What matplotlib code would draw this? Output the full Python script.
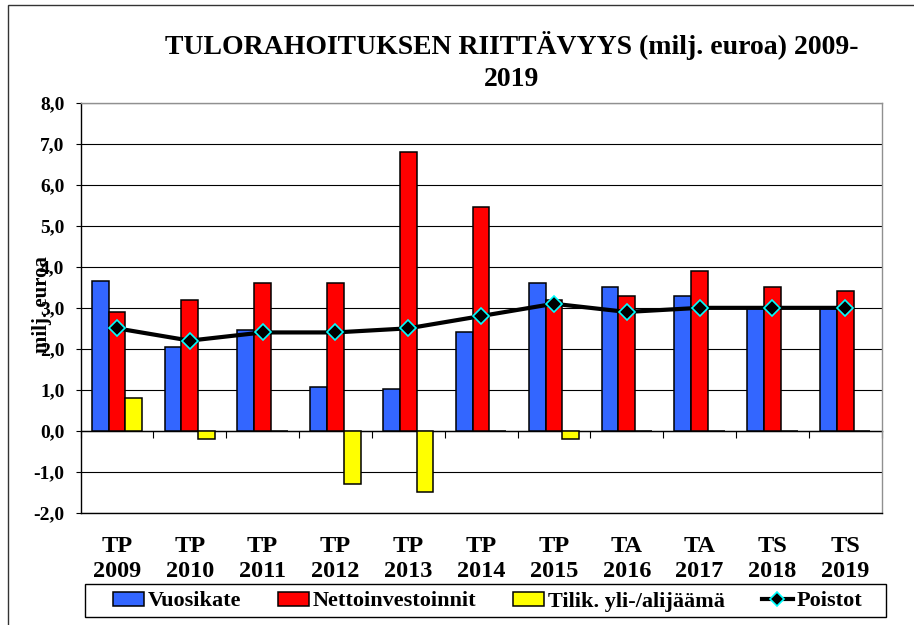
import numpy as np
import matplotlib
matplotlib.use("Agg")
import matplotlib.pyplot as plt
from matplotlib.patches import Rectangle, Patch
from matplotlib.lines import Line2D

# ---- data ----
categories = ["TP\n2009", "TP\n2010", "TP\n2011", "TP\n2012", "TP\n2013", "TP\n2014",
              "TP\n2015", "TA\n2016", "TA\n2017", "TS\n2018", "TS\n2019"]
vuosikate = [3.65, 2.05, 2.45, 1.08, 1.02, 2.42, 3.6, 3.5, 3.3, 3.0, 3.0]
nettoinvestoinnit = [2.9, 3.2, 3.6, 3.6, 6.8, 5.45, 3.2, 3.3, 3.9, 3.5, 3.4]
tilik = [0.8, -0.2, 0.0, -1.3, -1.5, 0.0, -0.2, 0.0, 0.0, 0.0, 0.0]
poistot = [2.5, 2.2, 2.4, 2.4, 2.5, 2.8, 3.1, 2.9, 3.0, 3.0, 3.0]
series_names = ["Vuosikate", "Nettoinvestoinnit", "Tilik. yli-/alijäämä", "Poistot"]
yticks = [-2, -1, 0, 1, 2, 3, 4, 5, 6, 7, 8]
ytick_labels = ["-2,0", "-1,0", "0,0", "1,0", "2,0", "3,0", "4,0", "5,0", "6,0", "7,0", "8,0"]
title = "TULORAHOITUKSEN RIITTÄVYYS (milj. euroa) 2009-\n2019"
ylabel = "milj. euroa"

plt.rcParams['font.family'] = ['Liberation Serif', 'DejaVu Serif']
plt.rcParams['font.weight'] = 'bold'

W, H = 914, 625
fig = plt.figure(figsize=(W / 100, H / 100), dpi=100)
fig.patch.set_facecolor("white")

ax = fig.add_axes([80.5 / W, 1 - 512.7 / H, (881.7 - 80.5) / W, (512.7 - 103) / H])

x = np.arange(len(categories))
bw = 0.23
c_blue, c_red, c_yel = "#3366FF", "#FF0000", "#FFFF00"
ax.bar(x - bw, vuosikate, bw, color=c_blue, edgecolor="black", linewidth=1.1, zorder=3)
ax.bar(x, nettoinvestoinnit, bw, color=c_red, edgecolor="black", linewidth=1.1, zorder=3)
ax.bar(x + bw, tilik, bw, color=c_yel, edgecolor="black", linewidth=1.1, zorder=3)
ax.plot(x, poistot, color="black", lw=3.0, marker="D", ms=8.5, mfc="black",
        mec="#00FFFF", mew=1.2, zorder=5)

ax.set_xlim(-0.5, len(categories) - 0.5)
ax.set_ylim(min(yticks), max(yticks))
ax.set_yticks(yticks)
ax.set_yticklabels(ytick_labels)
ax.tick_params(axis="y", direction="out", length=3.6, width=0.8, pad=8, labelsize=14)
ax.set_xticks(x)
ax.set_xticklabels(categories, linespacing=1.2)
ax.tick_params(axis="x", length=0, pad=17, labelsize=17.5)
for lab in ax.get_xticklabels() + ax.get_yticklabels():
    lab.set_fontweight("bold")

ax.grid(axis="y", color="black", lw=0.8)
ax.set_axisbelow(True)
for s in ["top", "right"]:
    ax.spines[s].set_color("#909090")
    ax.spines[s].set_linewidth(1.0)
for s in ["left", "bottom"]:
    ax.spines[s].set_color("black")
    ax.spines[s].set_linewidth(1.0)

# zero line with category-boundary ticks
zero_pos = (0 - min(yticks)) / (max(yticks) - min(yticks))
sec = ax.secondary_xaxis(zero_pos)
sec.set_xticks(np.arange(len(categories) + 1) - 0.5)
sec.set_xticklabels([])
sec.tick_params(direction="out", length=5, width=0.8, color="black")
sec.spines["bottom"].set_color("black")
sec.spines["bottom"].set_linewidth(1.0)
sec.spines["bottom"].set_zorder(2.5)

fig.text(0.560, 0.951, title, ha="center", va="top", fontsize=20, fontweight="bold",
         linespacing=1.38)
fig.text(42 / W, 1 - 305 / H, ylabel, rotation=90, ha="center", va="center",
         fontsize=15, fontweight="bold")

# legend: frame box and content
box_l, box_r, box_t, box_b = 85, 886, 584, 617
fig.add_artist(Rectangle((box_l / W, 1 - box_b / H), (box_r - box_l) / W, (box_b - box_t) / H,
                         transform=fig.transFigure, fill=True, facecolor="white",
                         edgecolor="black", lw=1.0, zorder=4))
handles = [Patch(facecolor=c_blue, edgecolor="black", lw=1.1),
           Patch(facecolor=c_red, edgecolor="black", lw=1.1),
           Patch(facecolor=c_yel, edgecolor="black", lw=1.1),
           Line2D([], [], color="black", lw=3.0, marker="D", ms=7, mfc="black",
                  mec="#00FFFF", mew=1.2)]
c_l, c_r = 113, 862
leg = fig.legend(handles, series_names, loc="center",
                 bbox_to_anchor=(c_l / W, 1 - (box_b + 1) / H, (c_r - c_l) / W, (box_b - box_t) / H),
                 mode="expand", ncol=4, frameon=False,
                 prop={"size": 16, "weight": "bold"}, handlelength=1.4, handleheight=0.6,
                 handletextpad=0.15, columnspacing=1.0, borderpad=0.0, borderaxespad=0)
leg.set_zorder(5)

fig.add_artist(Rectangle((8 / W, -0.1), 1.2, 1.1 - 5 / H, transform=fig.transFigure,
                         fill=False, edgecolor="#333333", lw=1.0))

fig.savefig("out.png", dpi=100)
